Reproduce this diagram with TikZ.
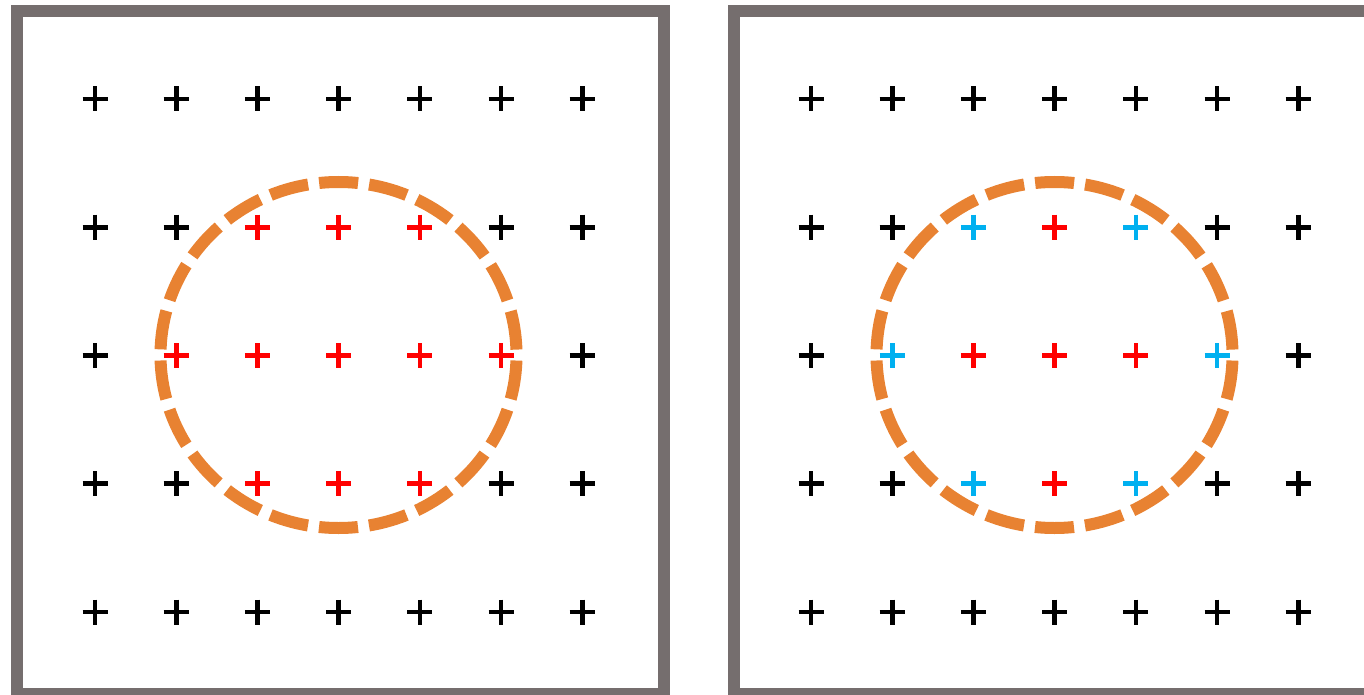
\documentclass[tikz,border=0pt]{standalone}
\usetikzlibrary{positioning}
\definecolor{frameGray}{RGB}{117,110,110}
\definecolor{ringOrange}{RGB}{232,130,50}
\definecolor{hitRed}{RGB}{255,0,0}
\definecolor{edgeCyan}{RGB}{0,176,240}

\tikzset{
  frame/.style={draw=frameGray, line width=6pt},
  ring/.style={draw=ringOrange, line width=6pt, dash pattern=on 19.5pt off 5.57pt, dash phase=22.3pt},
  pics/plusmark/.style={code={\draw[line width=2.3pt, draw=#1] (-12.5,0) -- (12.5,0) (0,-12.5) -- (0,12.5);}}
}

\begin{document}
\begin{tikzpicture}[x=0.5pt, y=-0.5pt]
  \useasboundingbox (0,0) rectangle (1364,695);

  % left panel: plain neighbourhood
  \draw[frame] (16.5,11) rectangle (664,694);
  \draw[ring] (338.5,355) ellipse[x radius=178, y radius=173];
  \foreach \row [count=\j from 0] in {%
      {black,black,black,black,black,black,black},
      {black,black,hitRed,hitRed,hitRed,black,black},
      {black,hitRed,hitRed,hitRed,hitRed,hitRed,black},
      {black,black,hitRed,hitRed,hitRed,black,black},
      {black,black,black,black,black,black,black}}
    \foreach \col [count=\i from 0] in \row
      \pic at ({95+81.2*\i},{99+128.25*\j}) {plusmark=\col};

  % right panel: edge points marked
  \draw[frame] (733.5,11) rectangle (1381,694);
  \draw[ring] (1054.5,355) ellipse[x radius=178, y radius=173];
  \foreach \row [count=\j from 0] in {%
      {black,black,black,black,black,black,black},
      {black,black,edgeCyan,hitRed,edgeCyan,black,black},
      {black,edgeCyan,hitRed,hitRed,hitRed,edgeCyan,black},
      {black,black,edgeCyan,hitRed,edgeCyan,black,black},
      {black,black,black,black,black,black,black}}
    \foreach \col [count=\i from 0] in \row
      \pic at ({811+81.2*\i},{99+128.25*\j}) {plusmark=\col};
\end{tikzpicture}
\end{document}
